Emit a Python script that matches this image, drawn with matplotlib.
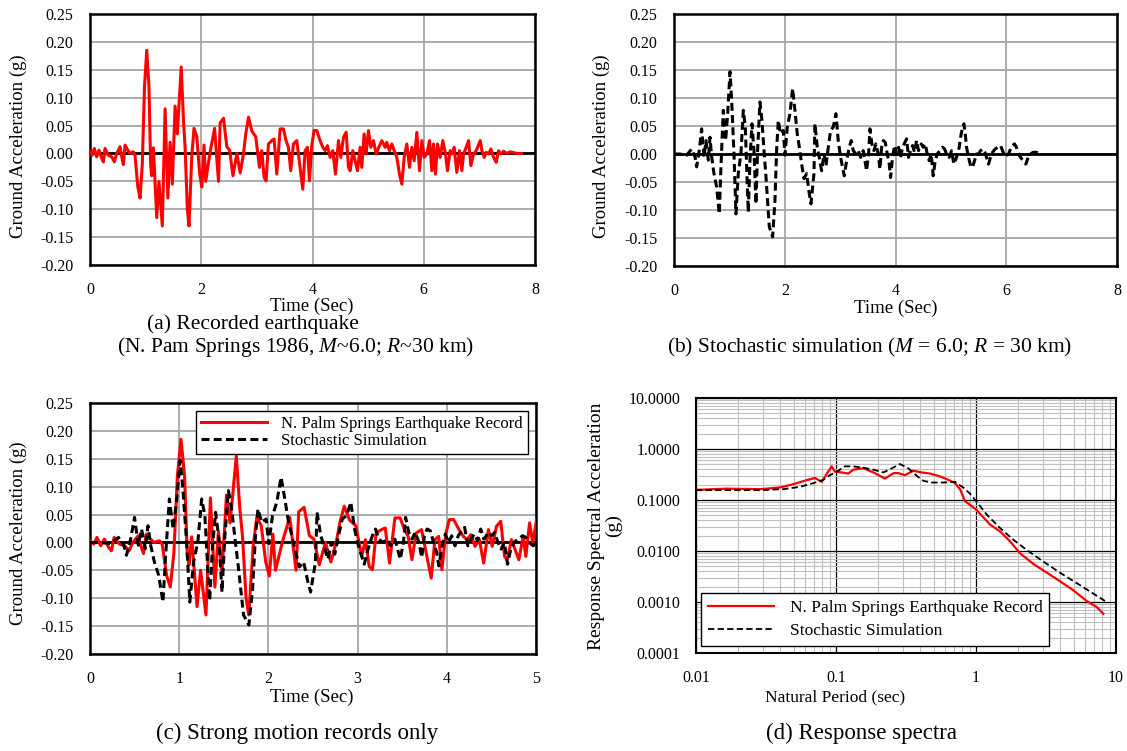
import matplotlib
matplotlib.use("Agg")
import matplotlib.pyplot as plt
import numpy as np
from matplotlib.ticker import FixedLocator, LogLocator, NullFormatter

plt.rcParams['font.family'] = ['Liberation Serif', 'DejaVu Serif']
plt.rcParams['mathtext.fontset'] = 'custom'
plt.rcParams['mathtext.it'] = 'Liberation Serif:italic'
plt.rcParams['mathtext.rm'] = 'Liberation Serif'

# ---------------- data ----------------
rec_t = [0.000, 0.042, 0.078, 0.120, 0.162, 0.210, 0.240, 0.270, 0.330, 0.390, 0.438, 0.480,
         0.540, 0.582, 0.600, 0.630, 0.678, 0.719, 0.779, 0.809, 0.86, 0.90, 0.94, 0.98, 1.02,
         1.06, 1.09, 1.11, 1.14, 1.20, 1.24, 1.30, 1.35, 1.40, 1.44, 1.48, 1.53, 1.57, 1.60,
         1.64, 1.68, 1.71, 1.75, 1.78, 1.83, 1.87, 1.92, 1.97, 2.01, 2.05, 2.08, 2.16, 2.24,
         2.27, 2.31, 2.34, 2.40, 2.46, 2.51, 2.57, 2.64, 2.70, 2.76, 2.80, 2.85, 2.91, 2.98,
         3.046, 3.088, 3.130, 3.166, 3.208, 3.268, 3.310, 3.358, 3.418, 3.477, 3.525, 3.567,
         3.609, 3.657, 3.717, 3.777, 3.825, 3.867, 3.909, 3.945, 3.987, 4.029, 4.077, 4.137,
         4.185, 4.227, 4.269, 4.317, 4.365, 4.413, 4.467, 4.509, 4.557, 4.605, 4.647, 4.677,
         4.725, 4.766, 4.808, 4.856, 4.886, 4.928, 4.964, 5.006, 5.048, 5.096, 5.144, 5.192,
         5.246, 5.306, 5.336, 5.384, 5.426, 5.468, 5.516, 5.564, 5.606, 5.648, 5.696, 5.744,
         5.786, 5.828, 5.876, 5.924, 5.966, 6.008, 6.056, 6.104, 6.146, 6.175, 6.211, 6.247,
         6.295, 6.343, 6.391, 6.427, 6.475, 6.505, 6.547, 6.595, 6.643, 6.685, 6.715, 6.763,
         6.805, 6.847, 6.895, 6.943, 7.015, 7.045, 7.087, 7.123, 7.165, 7.207, 7.255, 7.303,
         7.345, 7.387, 7.434, 7.494, 7.554, 7.674, 7.764]
rec_a = [0.003, -0.003, 0.009, -0.006, 0.006, -0.009, -0.015, 0.009, -0.003, -0.006, -0.015, 0.000,
         0.012, -0.012, -0.020, 0.015, 0.006, 0.000, 0.003, -0.003, -0.060, -0.080, -0.020, 0.120, 0.185,
         0.120, -0.020, -0.040, 0.010, -0.115, -0.050, -0.130, 0.080, -0.080, 0.020, -0.055, 0.085, 0.035, 0.085,
         0.155, 0.060, 0.010, -0.100, -0.130, -0.005, 0.045, 0.030, -0.035, -0.060, 0.015, -0.050, 0.003, 0.045,
         0.003, -0.050, 0.055, 0.063, 0.012, 0.006, -0.040, 0.000, -0.035, 0.000, 0.035, 0.065, 0.040, 0.030,
         -0.025, 0.005, -0.043, -0.049, 0.017, 0.023, 0.026, -0.037, 0.044, 0.044, 0.023, 0.011,
         -0.031, 0.017, 0.023, -0.025, -0.064, 0.005, 0.011, -0.049, 0.014, 0.041, 0.041, 0.023,
         0.011, 0.005, 0.014, -0.007, 0.005, -0.037, 0.023, -0.007, 0.029, 0.038, -0.025, -0.031,
         0.005, -0.013, -0.031, 0.011, -0.025, 0.035, -0.001, 0.041, 0.011, 0.023, -0.001, 0.011,
         0.023, 0.011, 0.020, 0.005, 0.017, 0.005, -0.007, -0.037, -0.055, -0.007, 0.017, -0.025,
         0.011, -0.013, 0.038, -0.031, 0.023, -0.007, -0.001, 0.023, -0.031, 0.017, -0.037, 0.017,
         -0.007, 0.023, -0.001, -0.031, 0.005, -0.001, 0.011, -0.034, 0.005, -0.031, -0.001, 0.011,
         0.023, -0.022, -0.001, 0.005, 0.023, 0.005, -0.007, 0.002, -0.001, 0.008, -0.007, -0.016,
         0.005, -0.001, 0.004, 0.000, 0.003, 0.000, 0.000]

sim_t = [0.000, 0.108, 0.229, 0.319, 0.379, 0.409, 0.457, 0.499, 0.542, 0.578, 0.620, 0.650,
         0.680, 0.722, 0.770, 0.818, 0.848, 0.890, 0.932, 0.969, 1.011, 1.041, 1.083, 1.119,
         1.161, 1.209, 1.252, 1.288, 1.324, 1.342, 1.372, 1.408, 1.444, 1.480, 1.510, 1.552,
         1.588, 1.625, 1.661, 1.721, 1.781, 1.823, 1.853, 1.883, 1.925, 1.974, 2.004, 2.046,
         2.094, 2.142, 2.184, 2.226, 2.262, 2.304, 2.347, 2.395, 2.443, 2.473, 2.527, 2.545,
         2.587, 2.623, 2.666, 2.708, 2.744, 2.786, 2.828, 2.876, 2.924, 2.966, 3.009, 3.045,
         3.075, 3.117, 3.165, 3.201, 3.237, 3.285, 3.327, 3.370, 3.418, 3.448, 3.478, 3.514,
         3.538, 3.574, 3.610, 3.646, 3.688, 3.719, 3.749, 3.779, 3.815, 3.851, 3.887, 3.911,
         3.947, 3.983, 4.019, 4.055, 4.092, 4.128, 4.170, 4.200, 4.236, 4.272, 4.308, 4.344,
         4.380, 4.416, 4.465, 4.501, 4.537, 4.573, 4.609, 4.645, 4.681, 4.717, 4.753, 4.802,
         4.850, 4.886, 4.922, 4.970, 5.012, 5.054, 5.102, 5.151, 5.175, 5.211, 5.235, 5.259,
         5.283, 5.319, 5.355, 5.391, 5.427, 5.463, 5.500, 5.536, 5.572, 5.614, 5.644, 5.680,
         5.716, 5.752, 5.800, 5.848, 5.897, 5.933, 5.969, 6.005, 6.041, 6.077, 6.113, 6.149,
         6.185, 6.222, 6.258, 6.306, 6.354, 6.396, 6.438, 6.486, 6.547, 6.607]
sim_a = [0.000, 0.000, -0.002, 0.009, -0.005, -0.023, 0.007, 0.045, -0.005, 0.024, -0.011, 0.030,
         -0.005, -0.035, -0.059, -0.107, -0.023, 0.078, 0.024, 0.072, 0.147, 0.096, 0.001, -0.107,
         -0.035, 0.001, 0.078, 0.048, -0.059, -0.104, -0.011, 0.054, 0.007, -0.089, 0.007, 0.093,
         0.060, 0.007, -0.041, -0.130, -0.148, -0.083, 0.007, 0.060, 0.036, 0.042, -0.002, 0.048,
         0.072, 0.117, 0.078, 0.036, 0.013, -0.017, -0.044, -0.035, -0.071, -0.089, -0.036, 0.054,
         0.012, -0.006, -0.030, 0.000, -0.021, 0.012, 0.042, 0.048, 0.072, 0.024, -0.006, -0.024,
         -0.039, -0.012, 0.012, 0.024, 0.006, 0.000, 0.006, -0.006, 0.006, -0.012, -0.030, 0.000,
         0.045, 0.018, 0.006, 0.018, 0.000, -0.027, 0.012, 0.024, 0.021, 0.000, -0.018, -0.042,
         -0.006, 0.015, 0.000, 0.012, -0.006, 0.012, 0.021, 0.027, -0.006, 0.006, 0.015, 0.003,
         0.024, 0.006, 0.018, 0.012, 0.018, 0.000, -0.012, 0.000, -0.039, -0.012, 0.000, 0.006,
         0.012, 0.009, 0.000, -0.006, 0.006, -0.018, -0.006, 0.012, 0.030, 0.048, 0.054, 0.036,
         0.012, -0.006, -0.021, -0.024, -0.012, 0.000, 0.000, 0.006, 0.009, 0.003, -0.006, -0.018,
         -0.006, 0.003, 0.009, 0.012, 0.015, 0.006, -0.003, -0.003, 0.000, 0.009, 0.015, 0.018,
         0.012, 0.000, -0.006, -0.012, -0.018, -0.006, 0.000, 0.003, 0.003, 0.000]

rec_T = [0.01, 0.01656, 0.02864, 0.0398, 0.0495, 0.0617, 0.0708, 0.0791, 0.0857, 0.0931,
         0.0984, 0.1096, 0.1225, 0.133, 0.1567, 0.185, 0.2239, 0.257, 0.2786, 0.3112, 0.3565,
         0.409, 0.469, 0.5534, 0.6339, 0.708, 0.769, 0.834, 1.0, 1.259, 1.483, 1.75, 2.06,
         2.57, 3.56, 4.95, 6.17, 7.28, 8.13]
rec_Sa = [0.158, 0.167, 0.163, 0.176, 0.204, 0.245, 0.27, 0.227, 0.322, 0.457,
          0.358, 0.347, 0.33, 0.393, 0.42, 0.347, 0.264, 0.335, 0.337, 0.307, 0.375,
          0.347, 0.33, 0.29, 0.249, 0.214, 0.163, 0.0955, 0.0653, 0.033, 0.0243, 0.0155, 0.00906,
          0.00557, 0.00313, 0.0017, 0.00105, 0.000796, 0.000588]
sim_T = [0.01, 0.0286, 0.042, 0.0553, 0.0689, 0.0813, 0.0906, 0.1012, 0.1159, 0.133, 0.1567,
         0.185, 0.2178, 0.25, 0.2864, 0.3289, 0.3767, 0.4207, 0.482, 0.5848, 0.708, 0.8128,
         0.906, 1.0, 1.191, 1.483, 1.849, 2.301, 3.027, 3.98, 5.53, 6.89, 8.34]
sim_Sa = [0.156, 0.156, 0.163, 0.181, 0.214, 0.249, 0.307, 0.358, 0.457, 0.457, 0.43,
          0.393, 0.347, 0.417, 0.508, 0.417, 0.299, 0.238, 0.22, 0.22, 0.227, 0.175,
          0.133, 0.0955, 0.052, 0.0283, 0.0166, 0.0105, 0.0062, 0.00375, 0.00214, 0.00146, 0.00105]

acc_ticks = [-0.20, -0.15, -0.10, -0.05, 0.00, 0.05, 0.10, 0.15, 0.20, 0.25]
sa_ticks = [0.0001, 0.001, 0.01, 0.1, 1.0, 10.0]
sa_labels = ['0.0001', '0.0010', '0.0100', '0.1000', '1.0000', '10.0000']
T_ticks = [0.01, 0.1, 1, 10]
T_labels = ['0.01', '0.1', '1', '10']

# ---------------- figure ----------------
W, H = 1127, 751
fig = plt.figure(figsize=(W / 100, H / 100), dpi=100)


def box(x0, y0, x1, y1):
    return [x0 / W, 1 - y1 / H, (x1 - x0) / W, (y1 - y0) / H]


def fx(x):
    return x / W


def fy(y):
    return 1 - y / H


GRID = '#a6a6a6'
TICKFS = 11.5
YLABFS = 13.5
XLABFS = 13.5
CAPFS = 15.5


def style_time_axis(ax, xmax, xstep):
    ax.set_xlim(0, xmax)
    ax.set_ylim(-0.20, 0.25)
    ax.set_yticks(acc_ticks)
    ax.set_yticklabels([f'{v:.2f}' for v in acc_ticks])
    ax.set_xticks(np.arange(0, xmax + 0.01, xstep))
    ax.set_xticklabels([f'{int(v)}' for v in np.arange(0, xmax + 0.01, xstep)])
    ax.grid(True, color=GRID, lw=1.3, zorder=0)
    ax.axhline(0, color='black', lw=2.0, zorder=1)
    ax.tick_params(length=0, labelsize=TICKFS)
    ax.tick_params(axis='y', pad=12)
    ax.tick_params(axis='x', pad=12)
    for s in ax.spines.values():
        s.set_linewidth(1.8)
        s.set_color('black')
    ax.set_axisbelow(True)


RED = '#ff0000'
DASH = (2.6, 1.4)

# (a)
axa = fig.add_axes(box(90, 14, 535, 265))
style_time_axis(axa, 8, 2)
axa.plot(rec_t, rec_a, color=RED, lw=2.2, zorder=3)

# (b)
axb = fig.add_axes(box(674, 14, 1117, 266))
style_time_axis(axb, 8, 2)
axb.plot(sim_t, sim_a, color='black', lw=2.2, dashes=DASH, zorder=3)

# (c)
axc = fig.add_axes(box(90, 403, 536, 654))
style_time_axis(axc, 5, 1)
axc.plot(rec_t, rec_a, color=RED, lw=2.2, zorder=3, label='N. Palm Springs Earthquake Record')
axc.plot(sim_t, sim_a, color='black', lw=2.2, dashes=DASH, zorder=4, label='Stochastic Simulation')
legc = axc.legend(loc='upper right', bbox_to_anchor=(0.982, 0.968), borderaxespad=0,
                  fontsize=12, frameon=True, fancybox=False, framealpha=1, edgecolor='black',
                  handlelength=4.0, handletextpad=0.85, borderpad=0.3, labelspacing=0.05)
legc.get_frame().set_linewidth(1.0)

# (d)
axd = fig.add_axes(box(696, 398, 1116, 653))
axd.set_xscale('log')
axd.set_yscale('log')
axd.set_xlim(0.01, 10)
axd.set_ylim(0.0001, 10)
axd.xaxis.set_major_locator(FixedLocator(T_ticks))
axd.set_xticklabels(T_labels)
axd.yaxis.set_major_locator(FixedLocator(sa_ticks))
axd.set_yticklabels(sa_labels)
axd.xaxis.set_minor_locator(LogLocator(base=10, subs=np.arange(2, 10)))
axd.yaxis.set_minor_locator(LogLocator(base=10, subs=np.arange(2, 10)))
axd.xaxis.set_minor_formatter(NullFormatter())
axd.yaxis.set_minor_formatter(NullFormatter())
axd.grid(True, which='minor', color='#c0c0c0', lw=0.8, zorder=0)
axd.grid(True, which='major', color='black', lw=0.9, zorder=1)
axd.tick_params(which='both', length=0, labelsize=TICKFS)
axd.tick_params(axis='y', pad=11)
axd.tick_params(axis='x', pad=12)
for s in axd.spines.values():
    s.set_linewidth(1.5)
axd.set_axisbelow(True)
axd.plot(rec_T, rec_Sa, color=RED, lw=1.6, zorder=3, label='N. Palm Springs Earthquake Record')
axd.plot(sim_T, sim_Sa, color='black', lw=1.3, dashes=(3.5, 1.8), zorder=4, label='Stochastic Simulation')
legd = axd.legend(loc='lower left', bbox_to_anchor=(0.012, 0.027), borderaxespad=0,
                  fontsize=12.5, frameon=True, fancybox=False, framealpha=1, edgecolor='black',
                  handlelength=3.8, handletextpad=0.9, borderpad=0.4, labelspacing=0.4)
legd.get_frame().set_linewidth(1.0)

# axis labels
fig.text(fx(18), fy(146), 'Ground Acceleration (g)', rotation=90, ha='center', va='center', fontsize=YLABFS)
fig.text(fx(601), fy(146), 'Ground Acceleration (g)', rotation=90, ha='center', va='center', fontsize=YLABFS)
fig.text(fx(18), fy(533), 'Ground Acceleration (g)', rotation=90, ha='center', va='center', fontsize=YLABFS)
fig.text(fx(605), fy(526), 'Response Spectral Acceleration\n(g)', rotation=90, ha='center',
         va='center', fontsize=14, linespacing=1.05)
fig.text(fx(312), fy(306), 'Time (Sec)', ha='center', va='center', fontsize=XLABFS)
fig.text(fx(896), fy(308), 'Time (Sec)', ha='center', va='center', fontsize=XLABFS)
fig.text(fx(312), fy(697), 'Time (Sec)', ha='center', va='center', fontsize=XLABFS)
fig.text(fx(835), fy(697), 'Natural Period (sec)', ha='center', va='center', fontsize=12.5)

# captions
fig.text(fx(253), fy(324), '(a) Recorded earthquake', ha='center', va='center', fontsize=CAPFS)
fig.text(fx(295), fy(347), '(N. Pam Springs 1986, $M$~6.0; $R$~30 km)', ha='center', va='center',
         fontsize=CAPFS)
fig.text(fx(870), fy(347), '(b) Stochastic simulation ($M$ = 6.0; $R$ = 30 km)', ha='center',
         va='center', fontsize=CAPFS)
fig.text(fx(297), fy(733), '(c) Strong motion records only', ha='center', va='center', fontsize=16.5)
fig.text(fx(862), fy(733), '(d) Response spectra', ha='center', va='center', fontsize=16.5)

fig.savefig('out.png', dpi=100, facecolor='white')
